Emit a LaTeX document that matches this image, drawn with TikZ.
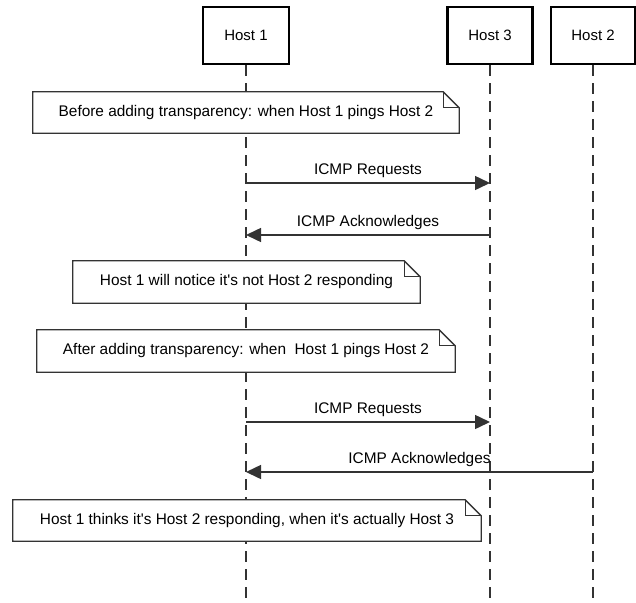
\documentclass[tikz,border=0pt]{standalone}
\usepackage{fontspec}
\setmainfont{Liberation Sans}[Ligatures=TeXOff]
\usetikzlibrary{arrows.meta}
\definecolor{ln}{HTML}{333333}
\tikzset{
  hostbox/.style={draw=black, line width=2.2pt, fill=white, minimum height=57pt, inner sep=0pt, font=\fontsize{15}{18}\selectfont},
  lifeline/.style={draw=ln, line width=1.5pt, dash pattern=on 11pt off 7pt},
  notebox/.style={inner sep=0pt, font=\fontsize{15.4}{18}\selectfont},
  noteline/.style={draw=ln, line width=1.3pt, fill=white, line join=miter},
  msg/.style={draw=ln, line width=1.5pt, -{Triangle[length=15pt,width=14pt]}},
  msglabel/.style={font=\fontsize{15.4}{18}\selectfont, inner sep=0pt}
}
\begin{document}
\begin{tikzpicture}[x=1pt,y=-1pt]
\useasboundingbox (0,0) rectangle (636,602);
% headers
\node[hostbox, minimum width=86pt] (h1) at (246,35.5) {Host 1};
\node[hostbox, minimum width=85pt] (h3) at (490,35.5) {Host 3};
\node[hostbox, minimum width=84pt] (h2) at (593,35.5) {Host 2};
% lifeline ends
\coordinate (h1e) at (246,602);
\coordinate (h3e) at (490,602);
\coordinate (h2e) at (593,602);
\draw[lifeline] (h1.south) -- (h1e);
\draw[lifeline] (h3.south) -- (h3e);
\draw[lifeline] (h2.south) -- (h2e);
% notes
\node[notebox, minimum width=426pt, minimum height=41pt] (n1) at (246,112.5) {};
\node[notebox, minimum width=347pt, minimum height=42pt] (n2) at (246.5,282) {};
\node[notebox, minimum width=418pt, minimum height=42pt] (n3) at (246,351) {};
\node[notebox, minimum width=468pt, minimum height=41pt] (n4) at (247,520.5) {};
\foreach \n in {n1,n2,n3,n4}{
  \draw[noteline] (\n.south west) -- (\n.north west) -- ([xshift=-16pt]\n.north east)
    -- ([yshift=-16pt]\n.north east) -- (\n.south east) -- cycle;
  \draw[noteline, fill=none] ([xshift=-16pt]\n.north east) -- ([xshift=-16pt,yshift=-16pt]\n.north east)
    -- ([yshift=-16pt]\n.north east);
}
\node[notebox] at (n1.center) {Before adding transparency: when Host 1 pings Host 2};
\node[notebox] at (n2.center) {Host 1 will notice it's not Host 2 responding};
\node[notebox] at (n3.center) {After adding transparency: when \ Host 1 pings Host 2};
\node[notebox] at (n4.center) {Host 1 thinks it's Host 2 responding, when it's actually Host 3};
% messages
\coordinate (m1s) at (246,183); \coordinate (m1e) at (490,183);
\coordinate (m2s) at (490,235); \coordinate (m2e) at (246,235);
\coordinate (m3s) at (246,422); \coordinate (m3e) at (490,422);
\coordinate (m4s) at (593,472); \coordinate (m4e) at (246,472);
\draw[msg] (m1s) -- (m1e) node[msglabel, midway, yshift=12pt] (l1) {ICMP Requests};
\draw[msg] (m2s) -- (m2e) node[msglabel, midway, yshift=12pt] (l2) {ICMP Acknowledges};
\draw[msg] (m3s) -- (m3e) node[msglabel, midway, yshift=12pt] (l3) {ICMP Requests};
\draw[msg] (m4s) -- (m4e) node[msglabel, midway, yshift=12pt] (l4) {ICMP Acknowledges};
\end{tikzpicture}
\end{document}
